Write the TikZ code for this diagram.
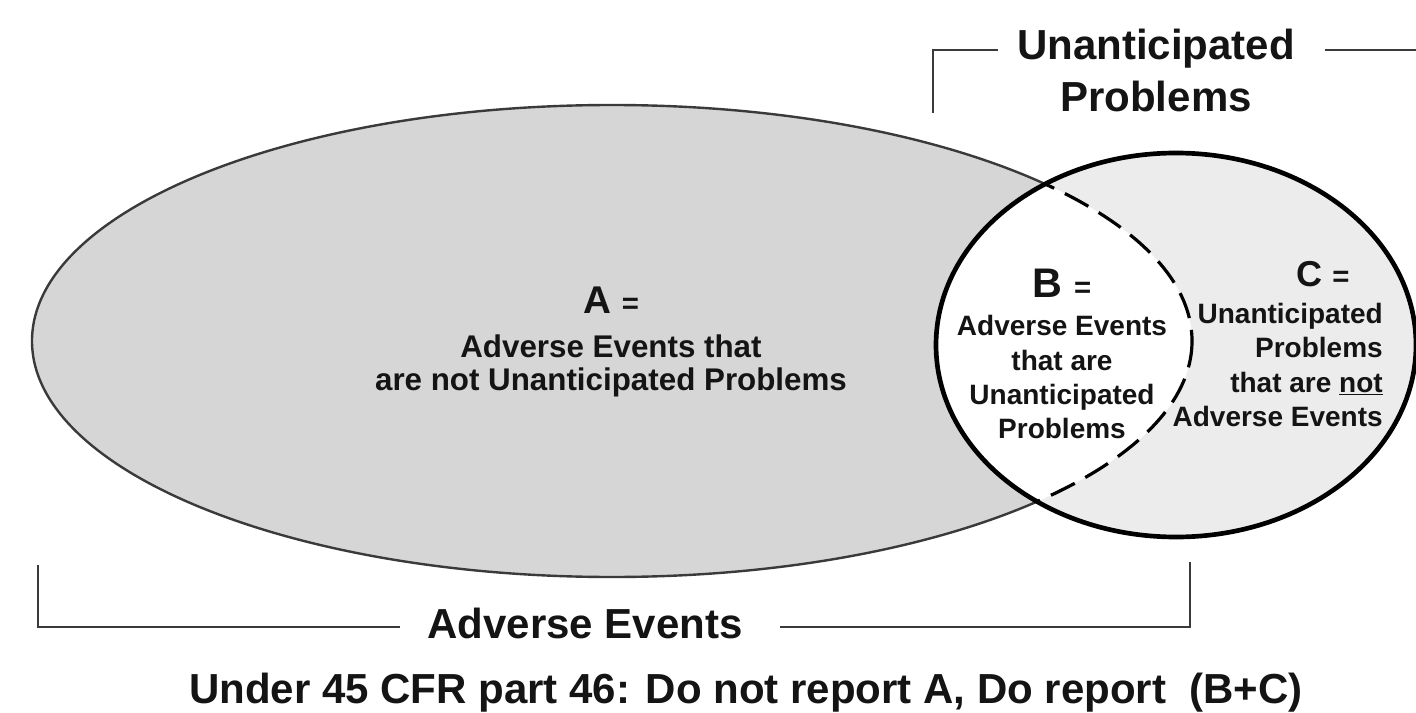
\documentclass[tikz,border=0pt]{standalone}
\usepackage{fontspec}
\setmainfont{Liberation Sans}
\definecolor{agray}{HTML}{D6D6D6}
\definecolor{cgray}{HTML}{ECECEC}
\definecolor{ink}{HTML}{141414}
\definecolor{lineg}{HTML}{3A3A3A}
\tikzset{
  bigtxt/.style={font=\bfseries\fontsize{31.5}{36}\selectfont, text=ink, inner sep=0pt, anchor=base},
  atxt/.style={font=\bfseries\fontsize{23.5}{26}\selectfont, text=ink, inner sep=0pt, anchor=base},
  btxt/.style={font=\bfseries\fontsize{21}{24}\selectfont, text=ink, inner sep=0pt, anchor=base},
  ctxt/.style={font=\bfseries\fontsize{21}{24}\selectfont, text=ink, inner sep=0pt, anchor=base east},
  labtxt/.style={text=ink, inner sep=0pt, anchor=base},
  bracketline/.style={draw=lineg, line width=2pt},
  aline/.style={draw=lineg, line width=1.8pt},
  cline/.style={draw=black, line width=3.5pt},
  dashline/.style={draw=black, line width=2.4pt, dash pattern=on 20pt off 9pt},
}
\newcommand{\eqsign}{{\fontsize{22}{22}\selectfont\bfseries =}}
\begin{document}
\begin{tikzpicture}[x=0.75pt,y=-0.75pt]
\useasboundingbox (0,0) rectangle (1416,713);
\fill[white] (0,0) rectangle (1416,713);

\coordinate (Ac) at (612,341);
\coordinate (Cc) at (1176,345);

% region A
\draw[aline, fill=agray] (Ac) ellipse [x radius=580, y radius=236];
% region C
\fill[cgray] (Cc) ellipse [x radius=240, y radius=192];
% region B (intersection)
\begin{scope}
  \clip (Cc) ellipse [x radius=240, y radius=192];
  \fill[white] (Ac) ellipse [x radius=580, y radius=236];
  \draw[dashline] (Ac) ellipse [x radius=580, y radius=236];
\end{scope}
\draw[cline] (Cc) ellipse [x radius=240, y radius=192];

% texts in A
\node[labtxt] (alab) at (611,313)
  {\bfseries\fontsize{29}{30}\selectfont A \eqsign};
\node[atxt] (adesc1) at (611,357) {Adverse Events that};
\node[atxt] (adesc2) at (611,390) {are not Unanticipated Problems};

% texts in B
\node[labtxt] (blab) at (1062,297)
  {\bfseries\fontsize{31}{32}\selectfont B \eqsign};
\node[btxt] (b1) at (1062,335) {Adverse Events};
\node[btxt] (b2) at (1062,370) {that are};
\node[btxt] (b3) at (1062,404) {Unanticipated};
\node[btxt] (b4) at (1062,438) {Problems};

% texts in C
\node[labtxt] (clab) at (1323,286)
  {\bfseries\fontsize{27}{28}\selectfont C \eqsign};
\node[ctxt] (c1) at (1383,323) {Unanticipated};
\node[ctxt] (c2) at (1383,357) {Problems};
\node[ctxt] (c3) at (1383,392) {that are \underline{not}};
\node[ctxt] (c4) at (1383,426) {Adverse Events};

% top bracket: Unanticipated Problems
\node[bigtxt] (up1) at (1156,60) {Unanticipated};
\node[bigtxt] (up2) at (1156,112) {Problems};
\coordinate (tl0) at (933,113);
\coordinate (tl1) at (933,50);
\coordinate (tl2) at (998,50);
\coordinate (tr1) at (1325,50);
\coordinate (tr2) at (1420,50);
\draw[bracketline] (tl0) -- (tl1) -- (tl2);
\draw[bracketline] (tr1) -- (tr2);

% bottom bracket: Adverse Events
\node[bigtxt] (ae) at (585,638) {Adverse Events};
\coordinate (bl0) at (38,565);
\coordinate (bl1) at (38,627);
\coordinate (bl2) at (400,627);
\coordinate (br0) at (1190,562);
\coordinate (br1) at (1190,627);
\coordinate (br2) at (780,627);
\draw[bracketline] (bl0) -- (bl1) -- (bl2);
\draw[bracketline] (br2) -- (br1) -- (br0);

% caption
\node[bigtxt] (cap) at (746,703) {Under 45 CFR part 46: Do not report A, Do report\ \ (B+C)};
\end{tikzpicture}
\end{document}
